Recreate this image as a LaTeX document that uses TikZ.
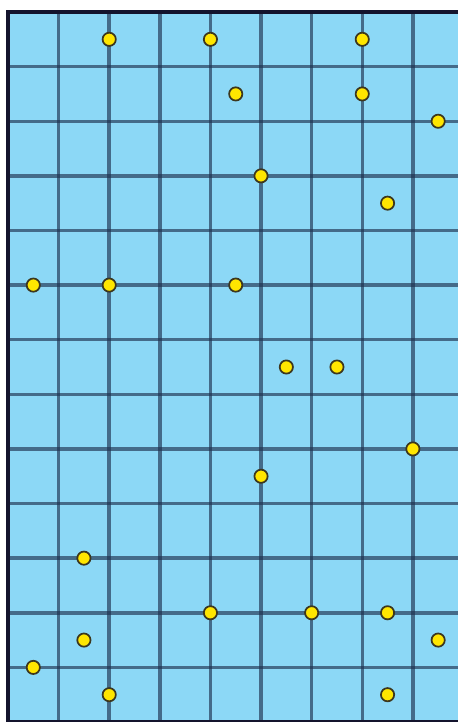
\documentclass[tikz,border=0pt]{standalone}
\usepackage{tikz}
\usetikzlibrary{positioning}
\definecolor{cellblue}{RGB}{140,216,246}
\definecolor{lineslate}{RGB}{30,50,80}
\definecolor{edgenavy}{RGB}{20,20,45}
\definecolor{dotyellow}{RGB}{255,230,0}
\definecolor{dotrim}{RGB}{60,55,30}
\tikzset{
    gridline/.style={draw=lineslate, line width=2.6pt, opacity=0.65},
    edgeline/.style={draw=edgenavy, line width=2.6pt},
    yellowdot/.style={circle, draw=dotrim, fill=dotyellow, line width=1.3pt, inner sep=0pt, minimum size=0.35cm},
}

\begin{document}
\begin{tikzpicture}[x=1.339cm, y=-1.445cm]
    \useasboundingbox (-0.158,-0.220) rectangle (8.893,13.0);
    % Background
    \fill[cellblue] (0,0) rectangle (8.893,13);
    
    % Grid
    \foreach \i in {1,...,8}
        \draw[gridline] (\i,0) -- (\i,13);
    \foreach \j in {1,...,12}
        \draw[gridline] (0,\j) -- (8.893,\j);
    \draw[edgeline] (0,13) -- (8.893,13);
    \draw[edgeline] (8.893,0) -- (0,0) -- (0,13);
    
    % Points
    \node[yellowdot] (p1) at (2,0.5) {};
    \node[yellowdot] (p2) at (4,0.5) {};
    \node[yellowdot] (p3) at (7,0.5) {};
    \node[yellowdot] (p4) at (4.5,1.5) {};
    \node[yellowdot] (p5) at (7,1.5) {};
    \node[yellowdot] (p6) at (8.5,2) {};
    \node[yellowdot] (p7) at (5,3) {};
    \node[yellowdot] (p8) at (7.5,3.5) {};
    \node[yellowdot] (p9) at (0.5,5) {};
    \node[yellowdot] (p10) at (2,5) {};
    \node[yellowdot] (p11) at (4.5,5) {};
    \node[yellowdot] (p12) at (5.5,6.5) {};
    \node[yellowdot] (p13) at (6.5,6.5) {};
    \node[yellowdot] (p14) at (8,8) {};
    \node[yellowdot] (p15) at (5,8.5) {};
    \node[yellowdot] (p16) at (1.5,10) {};
    \node[yellowdot] (p17) at (4,11) {};
    \node[yellowdot] (p18) at (6,11) {};
    \node[yellowdot] (p19) at (7.5,11) {};
    \node[yellowdot] (p20) at (1.5,11.5) {};
    \node[yellowdot] (p21) at (8.5,11.5) {};
    \node[yellowdot] (p22) at (0.5,12) {};
    \node[yellowdot] (p23) at (2,12.5) {};
    \node[yellowdot] (p24) at (7.5,12.5) {};
\end{tikzpicture}
\end{document}
